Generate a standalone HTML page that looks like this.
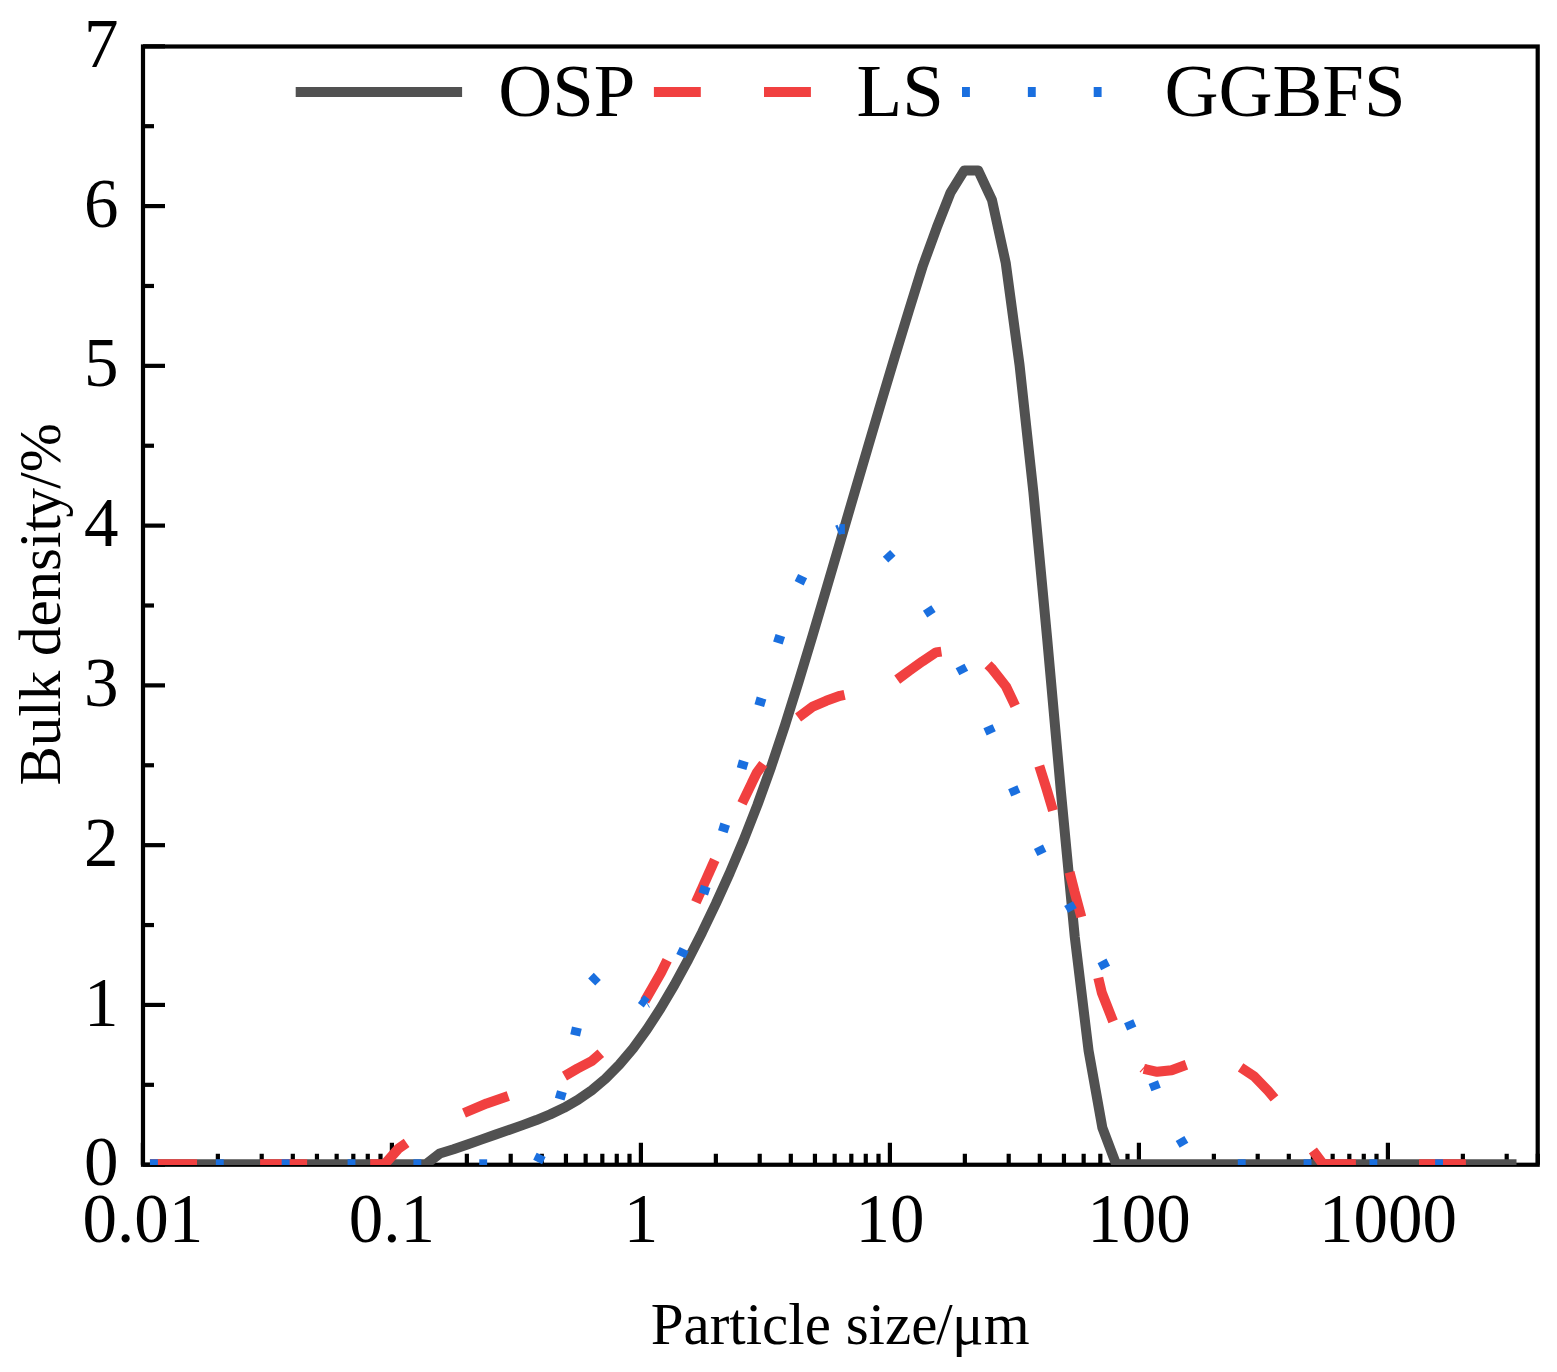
<!DOCTYPE html>
<html lang="en"><head><meta charset="utf-8"><title>Particle size distribution</title>
<style>html,body{margin:0;padding:0;background:#fff}svg{display:block}</style></head>
<body>
<svg width="1557" height="1372" viewBox="0 0 1557 1372">
<rect x="0" y="0" width="1557" height="1372" fill="#ffffff"/>
<defs><clipPath id="plotclip"><rect x="143" y="46.5" width="1394.7" height="1118.5"/></clipPath></defs>
<g id="axes" stroke="#000" stroke-width="4.2" fill="none" stroke-linecap="butt">
<rect x="143" y="46.5" width="1394.7" height="1118.25" stroke-linejoin="miter"/>
<line x1="143" y1="1164.7" x2="165" y2="1164.7"/>
<line x1="143" y1="1084.82" x2="154" y2="1084.82"/>
<line x1="143" y1="1004.93" x2="165" y2="1004.93"/>
<line x1="143" y1="925.05" x2="154" y2="925.05"/>
<line x1="143" y1="845.16" x2="165" y2="845.16"/>
<line x1="143" y1="765.28" x2="154" y2="765.28"/>
<line x1="143" y1="685.39" x2="165" y2="685.39"/>
<line x1="143" y1="605.5" x2="154" y2="605.5"/>
<line x1="143" y1="525.62" x2="165" y2="525.62"/>
<line x1="143" y1="445.74" x2="154" y2="445.74"/>
<line x1="143" y1="365.85" x2="165" y2="365.85"/>
<line x1="143" y1="285.97" x2="154" y2="285.97"/>
<line x1="143" y1="206.08" x2="165" y2="206.08"/>
<line x1="143" y1="126.19" x2="154" y2="126.19"/>
<line x1="143" y1="46.31" x2="165" y2="46.31"/>
<line x1="142.9" y1="1164.75" x2="142.9" y2="1142.75"/>
<line x1="217.86" y1="1164.75" x2="217.86" y2="1153.75"/>
<line x1="261.7" y1="1164.75" x2="261.7" y2="1153.75"/>
<line x1="292.81" y1="1164.75" x2="292.81" y2="1153.75"/>
<line x1="316.94" y1="1164.75" x2="316.94" y2="1153.75"/>
<line x1="336.66" y1="1164.75" x2="336.66" y2="1153.75"/>
<line x1="353.33" y1="1164.75" x2="353.33" y2="1153.75"/>
<line x1="367.77" y1="1164.75" x2="367.77" y2="1153.75"/>
<line x1="380.51" y1="1164.75" x2="380.51" y2="1153.75"/>
<line x1="391.9" y1="1164.75" x2="391.9" y2="1142.75"/>
<line x1="466.86" y1="1164.75" x2="466.86" y2="1153.75"/>
<line x1="510.7" y1="1164.75" x2="510.7" y2="1153.75"/>
<line x1="541.81" y1="1164.75" x2="541.81" y2="1153.75"/>
<line x1="565.94" y1="1164.75" x2="565.94" y2="1153.75"/>
<line x1="585.66" y1="1164.75" x2="585.66" y2="1153.75"/>
<line x1="602.33" y1="1164.75" x2="602.33" y2="1153.75"/>
<line x1="616.77" y1="1164.75" x2="616.77" y2="1153.75"/>
<line x1="629.51" y1="1164.75" x2="629.51" y2="1153.75"/>
<line x1="640.9" y1="1164.75" x2="640.9" y2="1142.75"/>
<line x1="715.86" y1="1164.75" x2="715.86" y2="1153.75"/>
<line x1="759.7" y1="1164.75" x2="759.7" y2="1153.75"/>
<line x1="790.81" y1="1164.75" x2="790.81" y2="1153.75"/>
<line x1="814.94" y1="1164.75" x2="814.94" y2="1153.75"/>
<line x1="834.66" y1="1164.75" x2="834.66" y2="1153.75"/>
<line x1="851.33" y1="1164.75" x2="851.33" y2="1153.75"/>
<line x1="865.77" y1="1164.75" x2="865.77" y2="1153.75"/>
<line x1="878.51" y1="1164.75" x2="878.51" y2="1153.75"/>
<line x1="889.9" y1="1164.75" x2="889.9" y2="1142.75"/>
<line x1="964.86" y1="1164.75" x2="964.86" y2="1153.75"/>
<line x1="1008.7" y1="1164.75" x2="1008.7" y2="1153.75"/>
<line x1="1039.81" y1="1164.75" x2="1039.81" y2="1153.75"/>
<line x1="1063.94" y1="1164.75" x2="1063.94" y2="1153.75"/>
<line x1="1083.66" y1="1164.75" x2="1083.66" y2="1153.75"/>
<line x1="1100.33" y1="1164.75" x2="1100.33" y2="1153.75"/>
<line x1="1114.77" y1="1164.75" x2="1114.77" y2="1153.75"/>
<line x1="1127.51" y1="1164.75" x2="1127.51" y2="1153.75"/>
<line x1="1138.9" y1="1164.75" x2="1138.9" y2="1142.75"/>
<line x1="1213.86" y1="1164.75" x2="1213.86" y2="1153.75"/>
<line x1="1257.7" y1="1164.75" x2="1257.7" y2="1153.75"/>
<line x1="1288.81" y1="1164.75" x2="1288.81" y2="1153.75"/>
<line x1="1312.94" y1="1164.75" x2="1312.94" y2="1153.75"/>
<line x1="1332.66" y1="1164.75" x2="1332.66" y2="1153.75"/>
<line x1="1349.33" y1="1164.75" x2="1349.33" y2="1153.75"/>
<line x1="1363.77" y1="1164.75" x2="1363.77" y2="1153.75"/>
<line x1="1376.51" y1="1164.75" x2="1376.51" y2="1153.75"/>
<line x1="1387.9" y1="1164.75" x2="1387.9" y2="1142.75"/>
<line x1="1462.86" y1="1164.75" x2="1462.86" y2="1153.75"/>
<line x1="1506.7" y1="1164.75" x2="1506.7" y2="1153.75"/>
<line x1="1537.81" y1="1164.75" x2="1537.81" y2="1153.75"/>
</g>
<g id="curves" clip-path="url(#plotclip)" fill="none" stroke-width="10" stroke-linecap="butt">
<polyline id="osp" stroke="#515151" stroke-linejoin="round" points="149.9,1164.3 163.7,1164.3 177.51,1164.3 191.31,1164.3 205.12,1164.3 218.92,1164.3 232.72,1164.3 246.53,1164.3 260.33,1164.3 274.14,1164.3 287.94,1164.3 301.74,1164.3 315.55,1164.3 329.35,1164.3 343.16,1164.3 356.96,1164.3 370.76,1164.3 384.57,1164.3 398.37,1164.3 412.18,1164.3 425.98,1164.3 439.78,1153.5 453.59,1149.18 467.39,1144.51 481.2,1139.63 495,1134.77 508.8,1129.97 522.61,1125.13 536.41,1120.04 550.22,1114.38 564.02,1107.8 577.82,1099.91 591.63,1090.33 605.43,1078.72 619.24,1064.81 633.04,1048.43 646.84,1029.56 660.65,1008.3 674.45,984.86 688.26,959.49 702.06,932.4 715.86,903.66 729.67,873.16 743.47,840.54 757.28,805.29 771.08,766.97 784.88,725.58 798.69,681.6 812.49,635.87 826.3,589.17 840.1,542.04 853.9,494.85 867.71,447.84 881.51,401.15 895.32,354.98 909.12,309.9 922.92,265.6 936.73,227.7 950.53,192.6 964.34,170.4 978.14,170.4 991.94,199.8 1005.75,263 1019.55,365 1033.36,492 1047.16,638.5 1060.96,792.3 1074.77,937 1088.57,1050.7 1102.38,1127.8 1116.18,1164.3 1129.98,1164.3 1143.79,1164.3 1157.59,1164.3 1171.4,1164.3 1185.2,1164.3 1199,1164.3 1212.81,1164.3 1226.61,1164.3 1240.42,1164.3 1254.22,1164.3 1268.02,1164.3 1281.83,1164.3 1295.63,1164.3 1309.44,1164.3 1323.24,1164.3 1337.04,1164.3 1350.85,1164.3 1364.65,1164.3 1378.46,1164.3 1392.26,1164.3 1406.06,1164.3 1419.87,1164.3 1433.67,1164.3 1447.48,1164.3 1461.28,1164.3 1475.08,1164.3 1488.89,1164.3 1502.69,1164.3 1516.5,1164.3"/>
<g id="ls" stroke="#F14040" stroke-linejoin="bevel">
<polyline points="150,1164.3 197,1164.3"/>
<polyline points="260.1,1164.3 307.1,1164.3"/>
<polyline points="370.2,1164.3 384.6,1164.3 398.4,1148.6 406.6,1142.9"/>
<polyline points="464,1113 486.7,1103.4 508.3,1096"/>
<polyline points="564.5,1076.1 577.3,1068.7 592.1,1060.8 600.8,1053.2"/>
<polyline points="644.8,1001 661,972.8 667.2,960.2"/>
<polyline points="695.9,902.3 714.8,859.9"/>
<polyline points="742,803.4 751.9,782.8 756.8,772.8 763.3,763.9"/>
<polyline points="798.1,717.6 812.2,706.9 826.2,700.8 840,695.8 844.6,694.8"/>
<polyline points="897.2,679.6 908.9,671 922.5,661.3 935.9,652.4 941.4,651.6"/>
<polyline points="988,664.7 991.5,668.2 1006,686.5 1015.2,705.8"/>
<polyline points="1039.3,765.9 1046.8,789.8 1053,810.6"/>
<polyline points="1069.6,872.2 1074.5,891.5 1081.3,917"/>
<polyline points="1098.3,977.8 1101.8,992.6 1113.1,1021.4"/>
<polyline points="1142.9,1068 1143.8,1068.8"/>
<polyline points="1143.8,1068.8 1157.2,1071.8 1171.6,1070.2 1186.4,1064.8"/>
<polyline points="1240.6,1067.4 1254.2,1076.4 1268.2,1090.9 1274.5,1098.4"/>
<polyline points="1312.9,1150.5 1323.2,1164.3 1355.9,1164.3"/>
<polyline points="1419,1164.3 1465.9,1164.3"/>
</g>
<g id="ggbfs" stroke="#1A6FDF" stroke-linejoin="miter">
<line x1="150" y1="1164.3" x2="157.9" y2="1164.3"/>
<line x1="215.85" y1="1164.3" x2="223.75" y2="1164.3"/>
<line x1="281.7" y1="1164.3" x2="289.6" y2="1164.3"/>
<line x1="347.55" y1="1164.3" x2="355.45" y2="1164.3"/>
<line x1="413.4" y1="1164.3" x2="421.3" y2="1164.3"/>
<line x1="479.25" y1="1164.3" x2="487.15" y2="1164.3"/>
<line x1="1237.8" y1="1164.3" x2="1245.7" y2="1164.3"/>
<line x1="1303.6" y1="1164.3" x2="1311.5" y2="1164.3"/>
<line x1="1369.4" y1="1164.3" x2="1377.3" y2="1164.3"/>
<line x1="1435.1" y1="1164.3" x2="1443" y2="1164.3"/>
<line x1="537.67" y1="1161.95" x2="541.13" y2="1154.85"/>
<line x1="559.71" y1="1099.2" x2="561.89" y2="1091.6"/>
<line x1="575.11" y1="1035.35" x2="576.89" y2="1027.65"/>
<line x1="591.71" y1="981.99" x2="597.29" y2="976.41"/>
<line x1="680.83" y1="956.18" x2="684.17" y2="949.02"/>
<line x1="703.28" y1="893.86" x2="705.72" y2="886.34"/>
<line x1="722.81" y1="831.67" x2="725.19" y2="824.13"/>
<line x1="741.58" y1="768.59" x2="743.82" y2="761.01"/>
<line x1="759.28" y1="705.59" x2="761.52" y2="698.01"/>
<line x1="777.88" y1="643.06" x2="780.32" y2="635.54"/>
<line x1="799.17" y1="583.25" x2="802.63" y2="576.15"/>
<line x1="886.49" y1="553.43" x2="891.91" y2="559.17"/>
<line x1="927.15" y1="608.09" x2="931.45" y2="614.71"/>
<line x1="960.05" y1="666.01" x2="963.75" y2="672.99"/>
<line x1="987.99" y1="726.19" x2="991.21" y2="733.41"/>
<line x1="1012.76" y1="787.26" x2="1015.84" y2="794.54"/>
<line x1="1038.47" y1="846.75" x2="1041.93" y2="853.85"/>
<line x1="1068.59" y1="903.55" x2="1072.41" y2="910.45"/>
<line x1="1102.01" y1="960.88" x2="1105.59" y2="967.92"/>
<line x1="1128.66" y1="1021.26" x2="1131.74" y2="1028.54"/>
<line x1="1153.28" y1="1082.11" x2="1156.12" y2="1089.49"/>
<line x1="1180.03" y1="1138.38" x2="1183.97" y2="1145.22"/>
<line x1="640.9" y1="999.1" x2="646.7" y2="1003.4"/><line x1="646.7" y1="1003.4" x2="647.4" y2="1003"/>
<line x1="837.2" y1="530.3" x2="839.5" y2="529.3"/><line x1="839.5" y1="529.1" x2="844.9" y2="529.1"/>
</g>
</g>
<g id="legend" fill="none" stroke-width="10" stroke-linecap="butt">
<line x1="295.7" y1="91.9" x2="462.1" y2="91.9" stroke="#515151"/>
<line x1="653.9" y1="91.9" x2="820.3" y2="91.9" stroke="#F14040" stroke-dasharray="46.9 63.2"/>
<line x1="962.0" y1="91.9" x2="1128.4" y2="91.9" stroke="#1A6FDF" stroke-dasharray="7.9 57.95"/>
</g>
<g id="text" font-family="'Liberation Serif','Times New Roman',Times,serif" fill="#000">
<g font-size="74.8">
<text x="498.2" y="116.3">OSP</text>
<text x="856.6" y="116.3">LS</text>
<text x="1164.4" y="116.3">GGBFS</text>
</g>
<g font-size="69" text-anchor="end">
<text transform="translate(118.6,1185.3) scale(1,1.022)">0</text>
<text transform="translate(118.6,1025.53) scale(1,1.022)">1</text>
<text transform="translate(118.6,865.76) scale(1,1.022)">2</text>
<text transform="translate(118.6,705.99) scale(1,1.022)">3</text>
<text transform="translate(118.6,546.22) scale(1,1.022)">4</text>
<text transform="translate(118.6,386.45) scale(1,1.022)">5</text>
<text transform="translate(118.6,226.68) scale(1,1.022)">6</text>
<text transform="translate(118.6,66.91) scale(1,1.022)">7</text>
</g>
<g font-size="69" text-anchor="middle">
<text transform="translate(142.9,1241.6) scale(1,1.022)">0.01</text>
<text transform="translate(391.9,1241.6) scale(1,1.022)">0.1</text>
<text transform="translate(640.9,1241.6) scale(1,1.022)">1</text>
<text transform="translate(889.9,1241.6) scale(1,1.022)">10</text>
<text transform="translate(1138.9,1241.6) scale(1,1.022)">100</text>
<text transform="translate(1387.9,1241.6) scale(1,1.022)">1000</text>
</g>
<text font-size="59" x="650.7" y="1343.7">Particle size<tspan dx="-1.2">/</tspan><tspan dx="-0.5">μm</tspan></text>
<text font-size="59" transform="translate(59.7,785.6) rotate(-90)">Bulk densit<tspan dx="-2.3">y</tspan><tspan dx="-0.7">/%</tspan></text>
</g>
</svg>
</body></html>
